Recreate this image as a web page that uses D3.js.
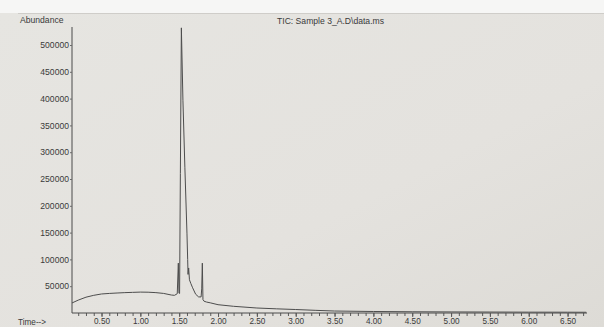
<!DOCTYPE html>
<html>
<head>
<meta charset="utf-8">
<script src="https://cdn.jsdelivr.net/npm/d3@7"></script>
<style>
  html, body { margin: 0; padding: 0; background: #f4f4f2; }
  svg { display: block; }
  text { font-family: "Liberation Sans", Arial, sans-serif; fill: #3a3a3a; }
</style>
</head>
<body>
<svg id="chart" width="604" height="327"></svg>
<script>
const chartTitle = "TIC: Sample 3_A.D\\data.ms";
const yAxisTitle = "Abundance";
const xAxisTitle = "Time-->";

const times = [0.12, 0.2, 0.3, 0.4, 0.5, 0.6, 0.7, 0.8, 0.9, 1.0, 1.1, 1.2, 1.3, 1.4, 1.44, 1.475,
  1.489, 1.497, 1.505, 1.515, 1.528, 1.548, 1.573, 1.600, 1.609, 1.614, 1.622, 1.632, 1.65, 1.673,
  1.712, 1.750, 1.782, 1.790, 1.798, 1.806, 1.82, 1.85, 1.9, 2.0, 2.2, 2.5, 2.75, 3.0, 3.25, 3.5,
  4.0, 4.5, 5.0, 5.5, 6.0, 6.5, 6.74];
const abundance = [18700, 24000, 29500, 33000, 35500, 36500, 37300, 38000, 38500, 39000, 38800, 38000,
  36500, 33500, 33000, 36000, 93000, 37000, 36500, 260000, 532000, 397000, 272000, 149000, 100000,
  72000, 84000, 62000, 55000, 47000, 35000, 30000, 30000, 45000, 93000, 25000, 22000, 20500, 19000,
  15500, 12500, 9300, 7800, 6500, 5000, 3700, 2800, 2300, 2000, 1800, 1600, 1500, 1400];

const yTicks = [50000, 100000, 150000, 200000, 250000, 300000, 350000, 400000, 450000, 500000];
const xMajorTicks = [0.5, 1.0, 1.5, 2.0, 2.5, 3.0, 3.5, 4.0, 4.5, 5.0, 5.5, 6.0, 6.5];
const xMinorTicks = d3.range(2, 68).map(d => d / 10);

const svg = d3.select("#chart");

// paper
const bg = svg.append("defs").append("linearGradient").attr("id", "paper")
  .attr("x1", 0).attr("y1", 0).attr("x2", 1).attr("y2", 1);
bg.append("stop").attr("offset", "0%").attr("stop-color", "#e6e5e1");
bg.append("stop").attr("offset", "60%").attr("stop-color", "#e4e2de");
bg.append("stop").attr("offset", "100%").attr("stop-color", "#dddbd6");
svg.append("rect").attr("x", 0).attr("y", 0).attr("width", 604).attr("height", 327).attr("fill", "#f6f6f5");
svg.append("rect").attr("x", 0).attr("y", 13).attr("width", 604).attr("height", 314).attr("fill", "url(#paper)");
svg.append("line").attr("x1", 18).attr("x2", 604).attr("y1", 13.5).attr("y2", 13.5)
  .attr("stroke", "#cfcdc9").attr("stroke-width", 1);

const x = d3.scaleLinear().domain([0.12, 6.75]).range([72, 587]);
const y = d3.scaleLinear().domain([0, 533600]).range([313, 27]);

// y axis
const yAxis = d3.axisLeft(y).tickValues(yTicks).tickSize(2).tickPadding(1).tickFormat(d3.format("d"));
const gy = svg.append("g").attr("transform", "translate(72,0)").call(yAxis);
gy.select(".domain").attr("stroke", "#4a4a4a").attr("d", `M-0,${y.range()[1]}V${y.range()[0]}`);
gy.selectAll(".tick line").attr("stroke", "#6a6a6a");
gy.selectAll(".tick text").attr("font-size", 8.6).style("font-family", "Liberation Sans, Arial, sans-serif").attr("fill", "#3a3a3a");

// x axis minor ticks
const xMinor = d3.axisBottom(x).tickValues(xMinorTicks).tickSize(3).tickFormat("");
const gxm = svg.append("g").attr("transform", "translate(0,313)").call(xMinor);
gxm.select(".domain").remove();
gxm.selectAll(".tick line").attr("stroke", "#5a5a5a");

const xAxis = d3.axisBottom(x).tickValues(xMajorTicks).tickSize(4).tickPadding(1).tickFormat(d3.format(".2f"));
const gx = svg.append("g").attr("transform", "translate(0,313)").call(xAxis);
gx.select(".domain").attr("stroke", "#4a4a4a").attr("d", `M${x.range()[0]},0H${x.range()[1]}`);
gx.selectAll(".tick line").attr("stroke", "#5a5a5a");
gx.selectAll(".tick text").attr("font-size", 8.2).style("font-family", "Liberation Sans, Arial, sans-serif").attr("fill", "#3a3a3a");

// trace
const line = d3.line().x((d, i) => x(times[i])).y(d => y(d));
svg.append("path").datum(abundance).attr("d", line)
  .attr("fill", "none").attr("stroke", "#4d4d4d").attr("stroke-width", 1).attr("stroke-linejoin", "round");

// texts
svg.append("text").attr("x", 20).attr("y", 23).attr("font-size", 8.6).text(yAxisTitle);
svg.append("text").attr("x", 277).attr("y", 24).attr("font-size", 8.6).text(chartTitle);
svg.append("text").attr("x", 18).attr("y", 325).attr("font-size", 8.2).text(xAxisTitle);
</script>
</body>
</html>
